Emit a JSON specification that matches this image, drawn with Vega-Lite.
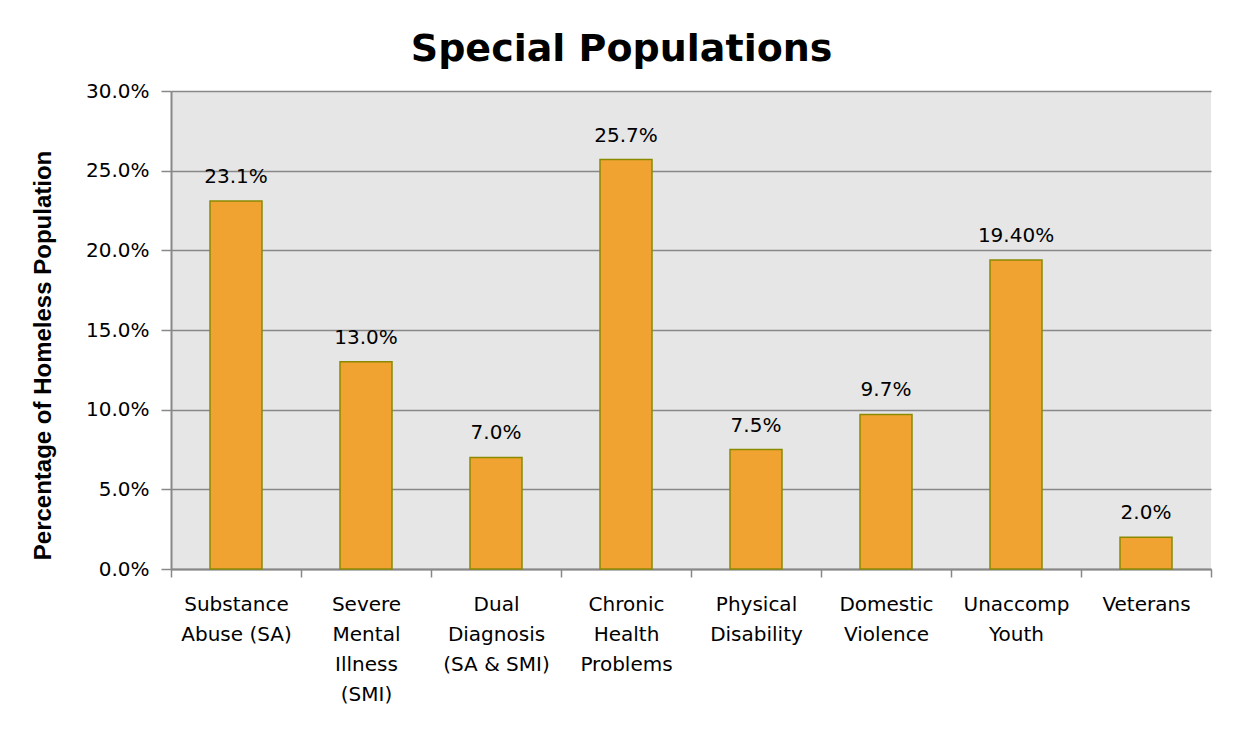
{
  "$schema": "https://vega.github.io/schema/vega-lite/v6.json",
  "autosize": {"type": "none"},
  "width": 1040,
  "height": 478,
  "padding": {"left": 171, "top": 91, "right": 24, "bottom": 167},
  "background": "#ffffff",
  "title": {
    "text": "Special Populations",
    "anchor": "middle",
    "frame": "bounds",
    "font": "DejaVu Sans",
    "fontSize": 38,
    "fontWeight": "bold",
    "color": "#000000",
    "offset": 12
  },
  "data": {
    "values": [
      {"category": "Substance|Abuse (SA)", "pct": 23.1, "label": "23.1%"},
      {"category": "Severe|Mental|Illness|(SMI)", "pct": 13.0, "label": "13.0%"},
      {"category": "Dual|Diagnosis|(SA & SMI)", "pct": 7.0, "label": "7.0%"},
      {"category": "Chronic|Health|Problems", "pct": 25.7, "label": "25.7%"},
      {"category": "Physical|Disability", "pct": 7.5, "label": "7.5%"},
      {"category": "Domestic|Violence", "pct": 9.7, "label": "9.7%"},
      {"category": "Unaccomp|Youth", "pct": 19.4, "label": "19.40%"},
      {"category": "Veterans", "pct": 2.0, "label": "2.0%"}
    ]
  },
  "encoding": {
    "x": {
      "field": "category",
      "type": "nominal",
      "sort": null,
      "scale": {"paddingInner": 0, "paddingOuter": 0},
      "axis": {
        "title": null,
        "labelAngle": 0,
        "labelExpr": "isValid(datum.value) ? split(datum.value, '|') : ''",
        "labelFont": "DejaVu Sans",
        "labelFontSize": 20,
        "labelColor": "#000000",
        "labelLineHeight": 30,
        "labelPadding": 17,
        "labelBaseline": "top",
        "tickBand": "extent",
        "tickSize": 8,
        "tickColor": "#888888",
        "tickWidth": 1.5,
        "domainColor": "#888888",
        "domainWidth": 2,
        "grid": false
      }
    },
    "y": {
      "field": "pct",
      "type": "quantitative",
      "scale": {"domain": [0, 30], "nice": false},
      "axis": {
        "title": "Percentage of Homeless Population",
        "titleFont": "Liberation Sans",
        "titleFontSize": 24,
        "titleFontWeight": "bold",
        "titleColor": "#000000",
        "titlePadding": 30,
        "titleY": 264,
        "values": [0, 5, 10, 15, 20, 25, 30],
        "labelExpr": "format(datum.value, '.1f') + '%'",
        "labelFont": "DejaVu Sans",
        "labelFontSize": 20,
        "labelColor": "#000000",
        "labelPadding": 12,
        "tickSize": 10,
        "tickColor": "#888888",
        "tickWidth": 1.5,
        "domainColor": "#888888",
        "domainWidth": 2,
        "gridColor": "#888888",
        "gridWidth": 1.5
      }
    }
  },
  "layer": [
    {
      "mark": {
        "type": "bar",
        "width": {"band": 0.4},
        "fill": "#f0a330",
        "stroke": "#8a8a00",
        "strokeWidth": 1.5
      }
    },
    {
      "mark": {
        "type": "text",
        "baseline": "bottom",
        "dy": -14,
        "font": "DejaVu Sans",
        "fontSize": 20,
        "color": "#000000"
      },
      "encoding": {"text": {"field": "label"}}
    }
  ],
  "config": {
    "view": {"fill": "#e6e6e6", "stroke": null}
  }
}
